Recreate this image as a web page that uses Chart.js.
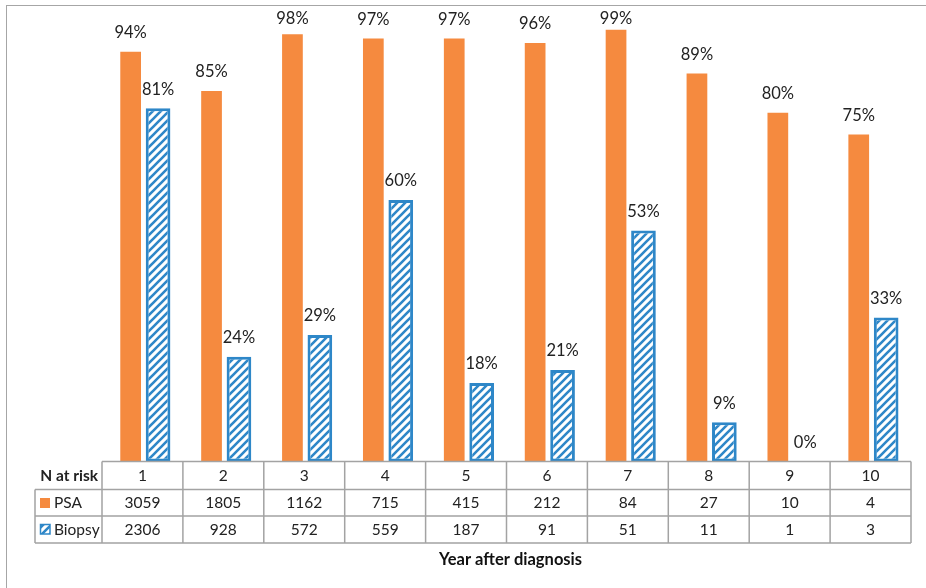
<!DOCTYPE html>
<html>
<head>
<meta charset="utf-8">
<script src="https://cdn.jsdelivr.net/npm/chart.js@4.4.0/dist/chart.umd.min.js"></script>
<style>
    html, body { margin: 0; padding: 0; background: #fff; }
    .wrap { position: relative; width: 926px; height: 588px; }
    .frame { position: absolute; left: 6px; top: 5px; right: -10px; bottom: -10px;
             border-left: 1.5px solid #a6a6a6; border-top: 1.5px solid #a6a6a6; pointer-events: none; }
    canvas { position: absolute; left: 0; top: 0; }
</style>
</head>
<body>
<div class="wrap">
    <canvas id="chart" width="926" height="588"></canvas>
    <div class="frame"></div>
</div>
<script>
const years = ['1', '2', '3', '4', '5', '6', '7', '8', '9', '10'];
const psaPct = [94, 85, 98, 97, 97, 96, 99, 89, 80, 75];
const biopsyPct = [81, 24, 29, 60, 18, 21, 53, 9, 0, 33];
const psaAtRisk = [3059, 1805, 1162, 715, 415, 212, 84, 27, 10, 4];
const biopsyAtRisk = [2306, 928, 572, 559, 187, 91, 51, 11, 1, 3];

const ORANGE = '#f58a3f';
const BLUE = '#2e87c8';
const GRID = '#a3a3a3';
const FONT = 'Lato, "Open Sans", sans-serif';

// row edges of the table under the bars
const rowTop = 461.5, rowHead = 489.5, rowPsa = 516, rowBottom = 543;
const labelLeft = 35;

function hatch(ctx) {
    const s = 8;
    const c = document.createElement('canvas');
    c.width = s; c.height = s;
    const g = c.getContext('2d');
    g.fillStyle = '#fff';
    g.fillRect(0, 0, s, s);
    g.strokeStyle = BLUE;
    g.lineWidth = 2.6;
    g.beginPath();
    g.moveTo(-1, s + 1); g.lineTo(s + 1, -1);
    g.moveTo(-s / 2 - 1, s / 2 + 1); g.lineTo(s / 2 + 1, -s / 2 - 1);
    g.moveTo(s / 2 - 1, s * 1.5 + 1); g.lineTo(s * 1.5 + 1, s / 2 - 1);
    g.stroke();
    return ctx.createPattern(c, 'repeat');
}

const valueLabels = {
    id: 'valueLabels',
    afterDatasetsDraw(chart) {
        const ctx = chart.ctx;
        ctx.save();
        ctx.font = '16.5px ' + FONT;
        ctx.fillStyle = '#222';
        ctx.textAlign = 'center';
        ctx.textBaseline = 'middle';
        chart.data.datasets.forEach((ds, i) => {
            chart.getDatasetMeta(i).data.forEach((bar, j) => {
                // labels near the top are kept inside the plot
                const y = Math.max(bar.y - 19, 19);
                ctx.fillText(ds.data[j] + '%', bar.x, y);
            });
        });
        ctx.restore();
    }
};

const dataTable = {
    id: 'dataTable',
    afterDraw(chart) {
        const ctx = chart.ctx;
        const xs = chart.scales.x;
        const half = (xs.getPixelForValue(1) - xs.getPixelForValue(0)) / 2;
        const left = xs.getPixelForValue(0) - half;
        const right = xs.getPixelForValue(years.length - 1) + half;
        ctx.save();
        ctx.strokeStyle = GRID;
        ctx.lineWidth = 1.5;
        ctx.beginPath();
        // horizontal lines
        ctx.moveTo(left, rowTop); ctx.lineTo(right, rowTop);
        ctx.moveTo(labelLeft, rowHead); ctx.lineTo(right, rowHead);
        ctx.moveTo(labelLeft, rowPsa); ctx.lineTo(right, rowPsa);
        ctx.moveTo(labelLeft, rowBottom); ctx.lineTo(right, rowBottom);
        // vertical lines
        ctx.moveTo(labelLeft, rowHead); ctx.lineTo(labelLeft, rowBottom);
        for (let i = 0; i <= years.length; i++) {
            const x = left + i * half * 2;
            ctx.moveTo(x, rowTop); ctx.lineTo(x, rowBottom);
        }
        ctx.stroke();

        ctx.fillStyle = '#222';
        ctx.textBaseline = 'middle';
        ctx.textAlign = 'center';
        ctx.font = '15.5px ' + FONT;
        years.forEach((y, i) => {
            const x = xs.getPixelForValue(i);
            ctx.fillText(y, x, (rowTop + rowHead) / 2);
            ctx.fillText(String(psaAtRisk[i]), x, (rowHead + rowPsa) / 2);
            ctx.fillText(String(biopsyAtRisk[i]), x, (rowPsa + rowBottom) / 2);
        });

        // row labels with legend keys
        ctx.textAlign = 'right';
        ctx.font = 'bold 15.5px ' + FONT;
        ctx.fillText('N at risk', left - 4, (rowTop + rowHead) / 2);
        ctx.textAlign = 'left';
        ctx.font = '15.5px ' + FONT;
        ctx.fillText('PSA', 54, (rowHead + rowPsa) / 2);
        ctx.fillText('Biopsy', 54, (rowPsa + rowBottom) / 2);
        ctx.fillStyle = ORANGE;
        ctx.fillRect(40, 498, 10, 10);
        ctx.fillStyle = hatch(ctx);
        ctx.fillRect(40, 524, 10, 10);
        ctx.strokeStyle = BLUE;
        ctx.lineWidth = 1.5;
        ctx.strokeRect(40.5, 524.5, 9.5, 9.5);

        ctx.textAlign = 'center';
        ctx.font = 'bold 16.5px ' + FONT;
        ctx.fillStyle = '#111';
        ctx.fillText('Year after diagnosis', (left + right) / 2 + 4, 560);
        ctx.restore();
    }
};

function draw() {
    const ctx = document.getElementById('chart').getContext('2d');
    new Chart(ctx, {
        type: 'bar',
        data: {
            labels: years,
            datasets: [{
                label: 'PSA',
                data: psaPct,
                backgroundColor: ORANGE,
                barPercentage: 0.877,
                categoryPercentage: 0.584
            }, {
                label: 'Biopsy',
                data: biopsyPct,
                backgroundColor: hatch(ctx),
                borderColor: BLUE,
                borderWidth: 3,
                borderSkipped: false,
                barPercentage: 0.79,
                categoryPercentage: 0.772
            }]
        },
        options: {
            responsive: false,
            animation: false,
            layout: { padding: { left: 102, right: 15, top: 25.5, bottom: 126.5 } },
            plugins: { legend: { display: false }, tooltip: { enabled: false } },
            scales: {
                x: { display: false },
                y: { display: false, min: 0, max: 100 }
            }
        },
        plugins: [valueLabels, dataTable]
    });
}

Promise.all([
    document.fonts.load('15px Lato'),
    document.fonts.load('bold 15px Lato')
]).then(draw, draw);
</script>
</body>
</html>
